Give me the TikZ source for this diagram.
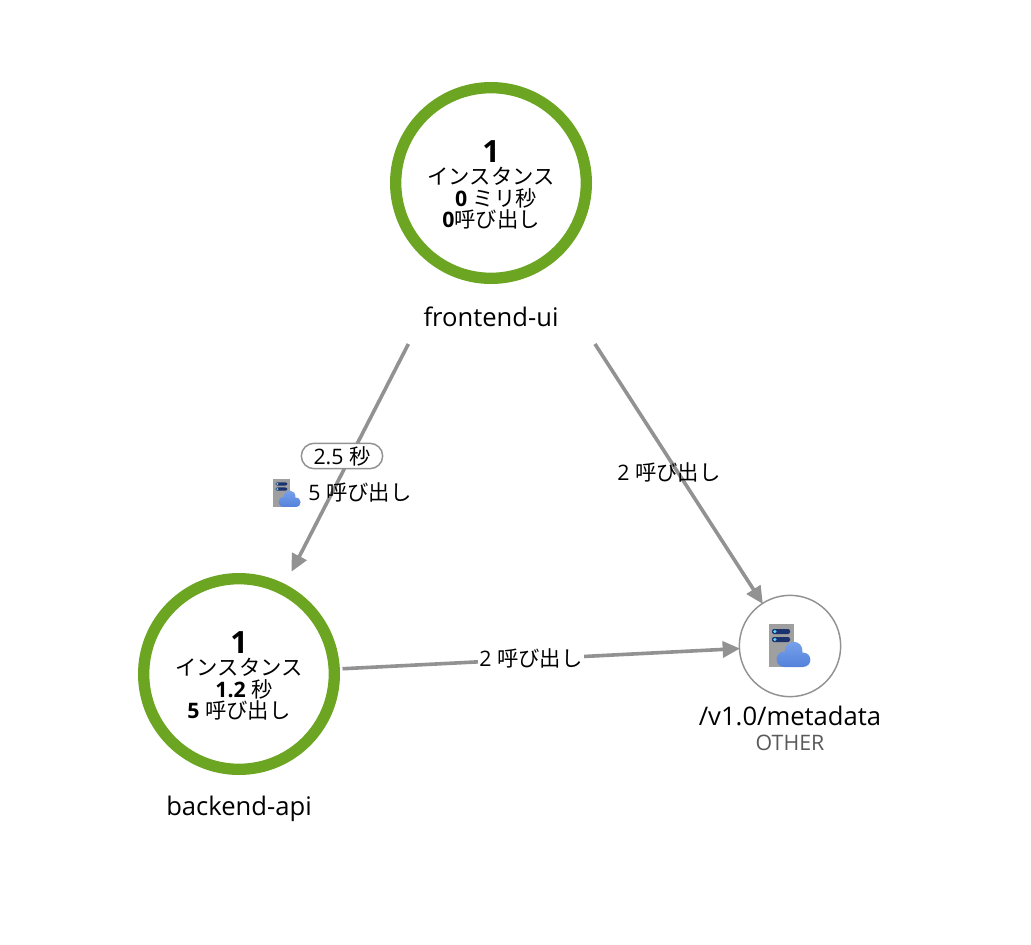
\documentclass[tikz,border=0pt]{standalone}
\usepackage{fontspec}
\setmainfont{Open Sans}
\newfontfamily\jpfont{Noto Sans CJK JP}
\usetikzlibrary{arrows.meta, positioning}
\definecolor{ringgreen}{RGB}{108,165,33}
\definecolor{flowgray}{RGB}{146,146,146}
\definecolor{cloudtop}{RGB}{124,164,238}
\definecolor{cloudlow}{RGB}{84,130,218}
\definecolor{slotnavy}{RGB}{28,50,110}
\definecolor{slotdot}{RGB}{90,210,250}
\newcommand{\jptext}[1]{{\jpfont #1}}

\begin{document}
\begin{tikzpicture}[
    x=0.75pt, y=-0.75pt,
    service/.style={circle, draw=ringgreen, line width=8.5pt, minimum size=143pt, inner sep=0pt},
    external/.style={circle, draw=flowgray, line width=1.1pt, minimum size=76pt, inner sep=0pt},
    nametext/.style={font=\fontsize{19.2}{22}\selectfont, text=black},
    count/.style={font=\fontsize{23}{26}\selectfont\bfseries, text=black, inner sep=0pt},
    info/.style={font=\fontsize{16}{18}\selectfont, text=black, inner sep=0pt},
    flow/.style={-{Triangle[length=13pt, width=12pt]}, line width=2.7pt, flowgray},
    flowlabel/.style={font=\fontsize{16}{18}\selectfont, text=black, inner sep=1pt},
    pill/.style={draw=flowgray, line width=1.1pt, rounded corners=9.5pt, fill=white, minimum width=61pt, minimum height=19pt, inner sep=0pt, font=\fontsize{16}{18}\selectfont, text=black},
    srvicon/.pic={
        \fill[gray!75] (-21,-21.5) rectangle (4,21.5);
        \fill[slotnavy, rounded corners=1.5pt] (-17.5,-16.5) rectangle (0.5,-11.5);
        \fill[slotnavy, rounded corners=1.5pt] (-17.5,-8.5) rectangle (0.5,-3.5);
        \fill[slotdot] (-14.7,-14) circle (1.7);
        \fill[slotdot] (-14.7,-6) circle (1.7);
        \shade[top color=cloudtop, bottom color=cloudlow] (-5,21.5) .. controls (-15.5,21.5) and (-15.5,6) .. (-5,6)
            .. controls (-4,-7) and (14,-7) .. (13,7)
            .. controls (23.5,7) and (23.5,21.5) .. (13,21.5) -- cycle;
    }]

\useasboundingbox (0,0) rectangle (1031,945);

% services
\node[service] (frontend) at (491,183) {};
\node[service] (backend) at (239,674) {};
\node[external] (metadata) at (790,646) {};

\node[nametext] (frontendname) at (491,317) {frontend-ui};
\node[nametext] (backendname) at (239,809) {backend-api};
\node[nametext] (metadataname) at (790,716) {/v1.0/metadata};
\node[info, text=black!65] (metadatakind) at (790,743) {OTHER};

\coordinate (metadataicon) at (789.5,645.5);
\pic at (metadataicon) {srvicon};

% text in the rings
\node[count] (frontendcount) at (491,152) {1};
\node[info] (frontendunit) at (491,176) {\jptext{インスタンス}};
\node[info] (frontendtime) at (496,198) {\textbf{0} \jptext{ミリ秒}};
\node[info] (frontendcalls) at (491,219) {\textbf{0}\jptext{呼び出し}};

\node[count] (backendcount) at (239,643) {1};
\node[info] (backendunit) at (239,667) {\jptext{インスタンス}};
\node[info] (backendtime) at (244,689) {\textbf{1.2} \jptext{秒}};
\node[info] (backendcalls) at (239,710) {\textbf{5} \jptext{呼び出し}};

% connectors
\draw[flow, shorten <=60pt, shorten >=10.5pt] (frontend) -- (backend);
\draw[flow, shorten <=68pt, shorten >=-1pt] (frontend) -- (metadata);
\draw[flow, shorten <=2pt, shorten >=-1pt] (backend) -- (metadata);

\node[pill] (latency) at (342,456) {2.5 \jptext{秒}};
\coordinate (flowicon) at (287,493);
\pic[scale=0.65] at (flowicon) {srvicon};
\node[flowlabel] (leftcalls) at (360,492) {5 \jptext{呼び出し}};
\node[flowlabel] (rightcalls) at (669,472) {2 \jptext{呼び出し}};
\node[flowlabel, fill=white] (bottomcalls) at (531,658) {2 \jptext{呼び出し}};

\end{tikzpicture}
\end{document}
